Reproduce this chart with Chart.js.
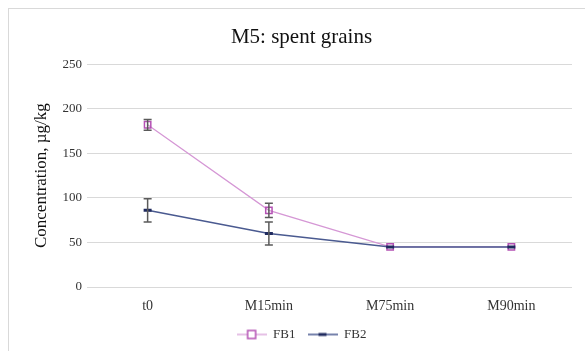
<!DOCTYPE html>
<html>
<head>
<meta charset="utf-8">
<script src="https://cdn.jsdelivr.net/npm/chart.js@4"></script>
<style>
  html, body { margin: 0; padding: 0; background: #fff; overflow: hidden; }
  #wrap { position: relative; width: 585px; height: 351px; overflow: hidden; }
  #frame { position: absolute; left: 8px; top: 8px; width: 600px; height: 360px; border: 1px solid #d9d9d9; }
  canvas { position: absolute; left: 0; top: 0; }
</style>
</head>
<body>
<div id="wrap">
  <div id="frame"></div>
  <canvas id="chart" width="585" height="351"></canvas>
</div>
<script>
// chart data
const categories = ['t0', 'M15min', 'M75min', 'M90min'];
const fb1Values = [182, 86, 45, 45];
const fb1Errors = [6, 8, 0, 0];
const fb2Values = [86, 60, 45, 45];
const fb2Errors = [13, 13, 0, 0];
const yTicks = [0, 50, 100, 150, 200, 250];

const FONT = '"Liberation Serif", "Times New Roman", serif';

// small legend swatch: line with marker on it
function swatch(lineColor, lineWidth, drawMarker) {
    const c = document.createElement('canvas');
    c.width = 30; c.height = 12;
    const ctx = c.getContext('2d');
    ctx.strokeStyle = lineColor;
    ctx.lineWidth = lineWidth;
    ctx.beginPath();
    ctx.moveTo(0, 6); ctx.lineTo(30, 6);
    ctx.stroke();
    drawMarker(ctx);
    return c;
}

const fb1Swatch = swatch('#d597d5', 1.2, ctx => {
    ctx.fillStyle = '#fff';
    ctx.fillRect(11, 2, 8, 8);
    ctx.strokeStyle = '#b451b4';
    ctx.lineWidth = 1.5;
    ctx.strokeRect(11, 2, 8, 8);
});
const fb2Swatch = swatch('#4a5a90', 1.5, ctx => {
    ctx.fillStyle = '#1f2a5e';
    ctx.fillRect(11, 4.5, 8, 3);
});

// error bars drawn from the value arrays through the scales
const errorBars = {
    id: 'errorBars',
    afterDatasetsDraw(chart) {
        const { ctx, scales: { x, y } } = chart;
        const sets = [[fb1Values, fb1Errors], [fb2Values, fb2Errors]];
        ctx.save();
        ctx.strokeStyle = '#5a5a5a';
        ctx.lineWidth = 1.5;
        sets.forEach(([vals, errs]) => {
            vals.forEach((v, i) => {
                if (!errs[i]) return;
                const px = x.getPixelForValue(i);
                const top = y.getPixelForValue(v + errs[i]);
                const bot = y.getPixelForValue(v - errs[i]);
                ctx.beginPath();
                ctx.moveTo(px, top); ctx.lineTo(px, bot);
                ctx.moveTo(px - 4, top); ctx.lineTo(px + 4, top);
                ctx.moveTo(px - 4, bot); ctx.lineTo(px + 4, bot);
                ctx.stroke();
            });
        });
        ctx.restore();
    }
};

new Chart(document.getElementById('chart'), {
    type: 'line',
    data: {
        labels: categories,
        datasets: [{
            label: 'FB1',
            data: fb1Values,
            borderColor: '#d597d5',
            borderWidth: 1.2,
            pointStyle: 'rect',
            pointRadius: 4.5,
            pointBorderColor: '#b451b4',
            pointBackgroundColor: 'rgba(255,255,255,0)',
            pointBorderWidth: 1.5,
            order: 2
        }, {
            label: 'FB2',
            data: fb2Values,
            borderColor: '#4a5a90',
            borderWidth: 1.5,
            pointStyle: 'line',
            pointRadius: 4,
            pointBorderColor: '#1f2a5e',
            pointBorderWidth: 3,
            order: 1
        }]
    },
    options: {
        responsive: false,
        animation: false,
        layout: { padding: { left: 31, right: 13, top: 9, bottom: 0 } },
        plugins: {
            title: {
                display: true,
                text: 'M5: spent grains',
                color: '#111',
                font: { family: FONT, size: 21, weight: 'normal' },
                padding: { top: 16, bottom: 14 }
            },
            legend: {
                position: 'bottom',
                labels: {
                    usePointStyle: true,
                    pointStyleWidth: 30,
                    color: '#333',
                    font: { family: FONT, size: 13 },
                    padding: 12,
                    generateLabels: chart => chart.data.datasets.map((ds, i) => ({
                        text: ds.label,
                        pointStyle: i === 0 ? fb1Swatch : fb2Swatch,
                        datasetIndex: i,
                        fontColor: '#333',
                        lineWidth: 0
                    }))
                }
            },
            tooltip: { enabled: false }
        },
        scales: {
            x: {
                offset: true,
                grid: { display: false, drawTicks: false },
                border: { display: false },
                afterFit: s => { s.height = 29; },
                ticks: { color: '#333', font: { family: FONT, size: 14 }, padding: 11 }
            },
            y: {
                min: 0,
                max: 250,
                afterBuildTicks: s => { s.ticks = yTicks.map(v => ({ value: v })); },
                afterFit: s => { s.width = 56; },
                grid: { color: '#d9d9d9', drawTicks: false },
                border: { display: false },
                ticks: { color: '#333', font: { family: FONT, size: 13 }, padding: 5 },
                title: {
                    display: true,
                    text: 'Concentration, µg/kg',
                    color: '#111',
                    font: { family: FONT, size: 17 },
                    padding: 0
                }
            }
        }
    },
    plugins: [errorBars]
});
</script>
</body>
</html>
